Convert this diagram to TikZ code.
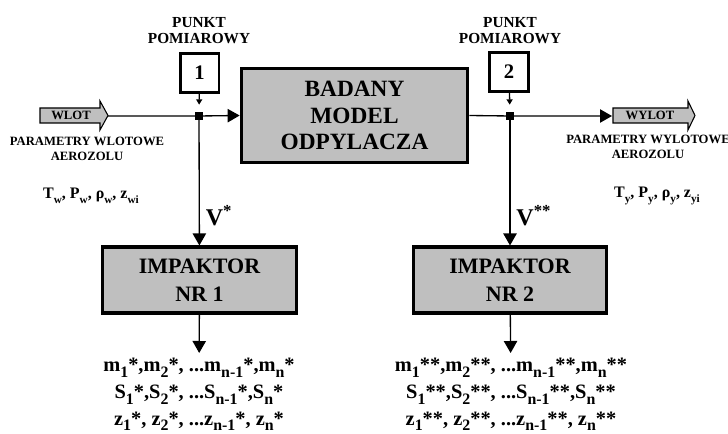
\documentclass[tikz,border=0pt]{standalone}
\usepackage{fontspec}
\setmainfont{Liberation Serif}
\usetikzlibrary{positioning,arrows.meta}
\newcommand{\ind}[2][0.7]{\raisebox{-0.28em}{\scalebox{#1}{#2}}}

\begin{document}
\begin{tikzpicture}[x=0.75pt,y=-0.75pt,line width=1pt,>={Triangle[length=9pt,width=10pt]},
  blok/.style={draw,line width=2.3pt,fill=black!25,align=center,inner sep=0pt},
  punktbox/.style={draw,line width=2pt,minimum width=29pt,minimum height=29.5pt,font=\bfseries\fontsize{15.5}{16}\selectfont},
  wezel/.style={fill=black,inner sep=0pt,minimum size=6pt},
  opis/.style={align=center,font=\bfseries\fontsize{9.5}{11.5}\selectfont},
  wynik/.style={align=center,inner xsep=1pt,inner ysep=3.5pt,font=\bfseries\fontsize{15.3}{20}\selectfont}]
\useasboundingbox (0,0) rectangle (728,434);
% punkty pomiarowe
\node[align=center,font=\bfseries\fontsize{11.5}{12}\selectfont] (pp1) at (199,31) {PUNKT\\POMIAROWY};
\node[align=center,font=\bfseries\fontsize{11.5}{12}\selectfont] (pp2) at (510,31) {PUNKT\\POMIAROWY};
\node[punktbox] (p1) at (199.5,73) {1};
\node[punktbox] (p2) at (509,72) {2};
\node[wezel] (w1) at (199,116) {};
\node[wezel] (w2) at (510,116) {};
\draw[-{Triangle[length=4pt,width=4.5pt]},shorten >=5pt] (p1) -- (w1);
\draw[-{Triangle[length=4pt,width=4.5pt]},shorten >=5pt] (p2) -- (w2);
% model i impaktory
\node[blok,minimum width=170pt,minimum height=71pt,font=\bfseries\fontsize{17.5}{20}\selectfont] (model) at (354.5,115.5) {BADANY\\MODEL\\ODPYLACZA};
\node[blok,minimum width=145pt,minimum height=49.5pt,font=\bfseries\fontsize{16.5}{21}\selectfont] (imp1) at (199.5,280) {IMPAKTOR\\NR 1};
\node[blok,minimum width=145pt,minimum height=49.5pt,font=\bfseries\fontsize{16.5}{21}\selectfont] (imp2) at (510,280) {IMPAKTOR\\NR 2};
% wlot / wylot
\draw[fill=black!25,line width=0.8pt] (40,108) -- (100,108) -- (100,101) -- (108,115.5) -- (100,130) -- (100,123) -- (40,123) -- cycle;
\draw[fill=black!25,line width=0.8pt] (613,108) -- (688,108) -- (688,101) -- (695,115.5) -- (688,130) -- (688,123) -- (613,123) -- cycle;
\node[font=\bfseries\fontsize{9.5}{10}\selectfont] (wlot) at (71,115.5) {WLOT};
\node[font=\bfseries\fontsize{9.5}{10}\selectfont] (wylot) at (650,115.5) {WYLOT};
\coordinate (wlotkon) at (108,116);
\coordinate (wylotpocz) at (612,116);
\draw[->] (wlotkon) -- (w1.center) -- (model.west);
\draw[->] (model.east) -- (w2.center) -- (wylotpocz);
\node[opis] (par1) at (87,149) {PARAMETRY WLOTOWE\\AEROZOLU};
\node[opis] (par2) at (648,147) {PARAMETRY WYLOTOWE\\AEROZOLU};
\node[font=\bfseries\fontsize{12}{14}\selectfont] (tw) at (91,196) {T\ind{w}, P\ind{w}, ρ\ind{w}, z\ind{wi}};
\node[font=\bfseries\fontsize{12}{14}\selectfont] (ty) at (657,196) {T\ind{y}, P\ind{y}, ρ\ind{y}, z\ind{yi}};
% strumienie do impaktorow
\draw[->] (w1.center) -- (imp1) node[pos=0.77,right=1pt,font=\bfseries\fontsize{18}{18}\selectfont]{V\textsuperscript{*}};
\draw[->] (w2.center) -- (imp2) node[pos=0.77,right=1pt,font=\bfseries\fontsize{18}{18}\selectfont]{V\textsuperscript{**}};
% wyniki
\node[wynik,anchor=north] (wyn1) at (199,353) {m\ind[0.78]{1}*,m\ind[0.78]{2}*, ...m\ind[0.78]{n-1}*,m\ind[0.78]{n}*\\S\ind[0.78]{1}*,S\ind[0.78]{2}*, ...S\ind[0.78]{n-1}*,S\ind[0.78]{n}*\\z\ind[0.78]{1}*, z\ind[0.78]{2}*, ...z\ind[0.78]{n-1}*, z\ind[0.78]{n}*};
\node[wynik,anchor=north] (wyn2) at (511,353) {m\ind[0.78]{1}**,m\ind[0.78]{2}**, ...m\ind[0.78]{n-1}**,m\ind[0.78]{n}**\\S\ind[0.78]{1}**,S\ind[0.78]{2}**, ...S\ind[0.78]{n-1}**,S\ind[0.78]{n}**\\z\ind[0.78]{1}**, z\ind[0.78]{2}**, ...z\ind[0.78]{n-1}**, z\ind[0.78]{n}**};
\draw[->] (imp1) -- (wyn1);
\draw[->] (imp2) -- (wyn2);
\end{tikzpicture}
\end{document}
